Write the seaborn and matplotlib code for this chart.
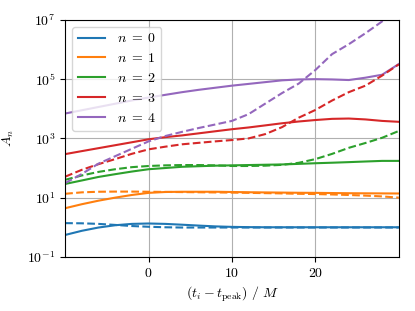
import numpy as np
import pandas as pd
import matplotlib
matplotlib.use("Agg")
import matplotlib.pyplot as plt
import seaborn as sns

# time relative to peak, in units of M
t = [-10, -8, -6, -4, -2, 0, 2, 4, 6, 8, 10, 12, 14, 16, 18, 20, 22, 24, 26, 28, 30]

# amplitudes A_n, solid curves
A0 = [0.55, 0.76, 0.98, 1.17, 1.30, 1.34, 1.30, 1.22, 1.14, 1.07, 1.03, 1.01, 1.0, 1.0, 1.0, 1.0, 1.0, 1.0, 1.0, 1.0, 1.0]
A1 = [4.4, 6.0, 7.9, 10.0, 12.3, 14.5, 15.5, 15.8, 15.8, 15.8, 15.5, 15.2, 15.0, 14.8, 14.6, 14.5, 14.3, 14.1, 14.0, 13.9, 13.8]
A2 = [29, 38, 50, 62, 76, 91, 100, 110, 115, 120, 123, 126, 129, 132, 138, 145, 151, 158, 166, 174, 174]
A3 = [295, 372, 468, 589, 741, 933, 1100, 1260, 1480, 1740, 2040, 2340, 2750, 3240, 3720, 4170, 4570, 4680, 4370, 3890, 3630]
A4 = [6920, 8910, 11500, 14800, 19100, 24000, 29500, 36300, 43600, 51300, 60300, 69200, 79400, 91200, 97700, 100000, 97700, 93300, 112000, 141000, 324000]

# dashed curves
B0 = [1.38, 1.36, 1.30, 1.20, 1.10, 1.04, 1.0, 0.98, 0.98, 0.98, 0.98, 0.98, 0.98, 0.98, 0.98, 0.98, 0.98, 0.98, 0.98, 0.98, 0.98]
B1 = [13.5, 15.1, 15.8, 16.0, 16.0, 15.8, 15.6, 15.4, 15.2, 15.0, 14.8, 14.5, 14.2, 13.9, 13.5, 13.2, 12.8, 12.3, 11.7, 11.0, 10.0]
B2 = [40, 56, 74, 91, 107, 117, 123, 126, 126, 123, 117, 117, 120, 128, 150, 200, 300, 480, 700, 1050, 1780]
B3 = [51, 87, 135, 200, 302, 427, 525, 631, 708, 794, 880, 1000, 1400, 2400, 5000, 9120, 19000, 36300, 60300, 132000, 316000]
B4 = [31, 63, 141, 251, 447, 794, 1200, 1660, 2240, 2950, 3900, 6610, 15000, 33900, 70800, 204000, 700000, 1510000, 3550000, 8900000, 22400000]

labels = [r'$n \;=\; 0$', r'$n \;=\; 1$', r'$n \;=\; 2$', r'$n \;=\; 3$', r'$n \;=\; 4$']
solid = [A0, A1, A2, A3, A4]
dashed = [B0, B1, B2, B3, B4]

plt.rcParams['mathtext.fontset'] = 'cm'
plt.rcParams['font.family'] = 'serif'
plt.rcParams['font.serif'] = ['cmr10', 'DejaVu Serif']
plt.rcParams['axes.formatter.use_mathtext'] = True
plt.rcParams['font.size'] = 10

fig, ax = plt.subplots(figsize=(4.15, 3.11), dpi=100)
colors = sns.color_palette('tab10')

for i in range(5):
    df = pd.DataFrame({'t': t, 'A': solid[i]})
    sns.lineplot(data=df, x='t', y='A', color=colors[i], label=labels[i], lw=1.5, ax=ax)
for i in range(5):
    df = pd.DataFrame({'t': t, 'A': dashed[i]})
    sns.lineplot(data=df, x='t', y='A', color=colors[i], ls='--', lw=1.5, ax=ax)

ax.set_yscale('log')
ax.set_xlim(-10, 30)
ax.set_ylim(1e-1, 1e7)
ax.set_yticks([1e-1, 1e1, 1e3, 1e5, 1e7])
ax.yaxis.set_minor_locator(matplotlib.ticker.NullLocator())
ax.set_xticks([0, 10, 20])
ax.grid(True)
ax.set_xlabel(r'$(t_i - t_{\rm peak})\ /\ M$')
ax.set_ylabel(r'$A_n$', labelpad=8)
ax.legend(loc='upper left')

plt.subplots_adjust(left=0.157, right=0.961, top=0.936, bottom=0.174)
plt.savefig('out.png')
